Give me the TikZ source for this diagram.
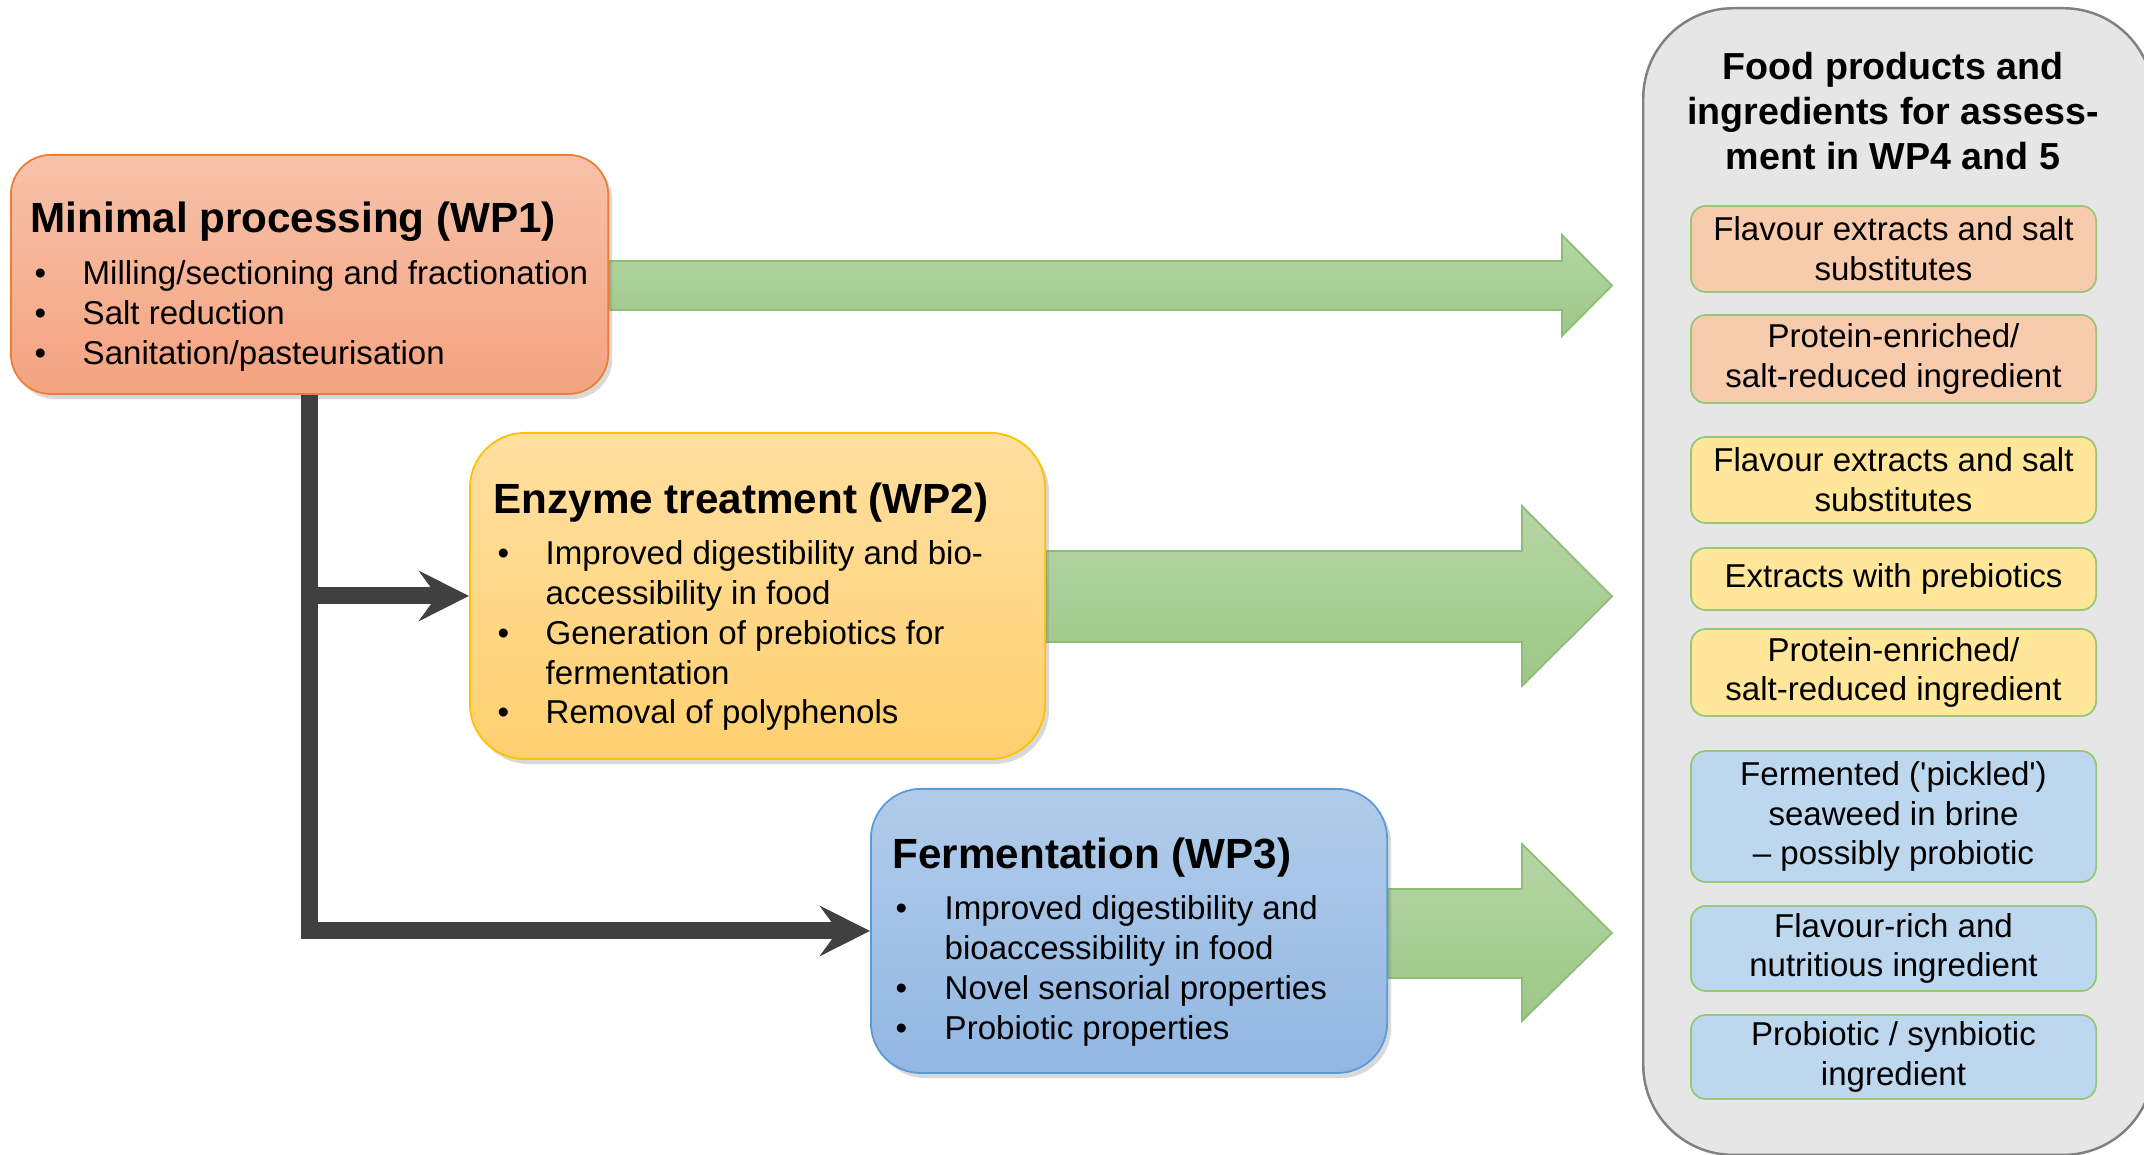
\documentclass[tikz,border=0pt]{standalone}
\usepackage{fontspec}
\setmainfont{Liberation Sans}
\usetikzlibrary{arrows.meta,shadows,backgrounds}

\definecolor{wponetop}{RGB}{247,194,170}
\definecolor{wponebot}{RGB}{244,163,128}
\definecolor{wponeline}{RGB}{237,125,49}
\definecolor{wptwotop}{RGB}{255,223,160}
\definecolor{wptwobot}{RGB}{255,208,112}
\definecolor{wptwoline}{RGB}{255,192,0}
\definecolor{wpthreetop}{RGB}{177,204,234}
\definecolor{wpthreebot}{RGB}{146,183,227}
\definecolor{wpthreeline}{RGB}{91,155,213}
\definecolor{arrowtop}{RGB}{181,214,164}
\definecolor{arrowbot}{RGB}{158,198,137}
\definecolor{arrowline}{RGB}{140,190,115}
\definecolor{connline}{RGB}{64,64,64}
\definecolor{panelfill}{RGB}{230,230,230}
\definecolor{panelline}{RGB}{128,128,128}
\definecolor{prodline}{RGB}{150,200,120}
\definecolor{prodorange}{RGB}{248,203,173}
\definecolor{prodyellow}{RGB}{255,230,153}
\definecolor{prodblue}{RGB}{189,215,238}

\tikzset{
  wpbox/.style={anchor=north west, line width=0.5pt, inner sep=0pt,
    drop shadow={shadow xshift=0.04cm, shadow yshift=-0.05cm, opacity=0.3}},
  wptitle/.style={anchor=base west, inner sep=0pt, font=\fontsize{12}{14}\selectfont\bfseries},
  wplist/.style={anchor=base west, inner sep=0pt, font=\fontsize{9.4}{11.3}\selectfont},
  prodbox/.style={draw=prodline, line width=0.5pt, rounded corners=0.15cm, minimum width=4.05cm,
    align=center, inner sep=0pt, font=\fontsize{9.4}{11.3}\selectfont},
  conn/.style={draw=connline, line width=0.17cm, -{Stealth[length=0.5cm,width=0.5cm,inset=0.18cm]}},
  bigarrow/.style={draw=arrowline, line width=0.5pt, top color=arrowtop, bottom color=arrowbot},
}

\begin{document}
\begin{tikzpicture}[x=0.01cm, y=-0.01cm]
\useasboundingbox (0,0) rectangle (2144,1155);

% Work package boxes
\node[wpbox, draw=wponeline, top color=wponetop, bottom color=wponebot, rounded corners=0.4cm,
  minimum width=5.97cm, minimum height=2.39cm] (wpone) at (10,154) {};
\node[wpbox, draw=wptwoline, top color=wptwotop, bottom color=wptwobot, rounded corners=0.55cm,
  minimum width=5.75cm, minimum height=3.26cm] (wptwo) at (469,432) {};
\node[wpbox, draw=wpthreeline, top color=wpthreetop, bottom color=wpthreebot, rounded corners=0.5cm,
  minimum width=5.16cm, minimum height=2.84cm] (wpthree) at (870,788) {};

% Box texts
\node[wptitle] (wponetitle) at (30,233) {Minimal processing (WP1)};
\node[wplist] (wponelist) at (34,285) {\begin{tabular}[t]{@{}p{0.48cm}@{}l@{}}
  \textbullet & Milling/sectioning and fractionation\\
  \textbullet & Salt reduction\\
  \textbullet & Sanitation/pasteurisation
\end{tabular}};
\node[wptitle] (wptwotitle) at (493,514) {Enzyme treatment (WP2)};
\node[wplist] (wptwolist) at (497,565) {\begin{tabular}[t]{@{}p{0.48cm}@{}l@{}}
  \textbullet & Improved digestibility and bio-\\
              & accessibility in food\\
  \textbullet & Generation of prebiotics for\\
              & fermentation\\
  \textbullet & Removal of polyphenols
\end{tabular}};
\node[wptitle] (wpthreetitle) at (892,869) {Fermentation (WP3)};
\node[wplist] (wpthreelist) at (895,920) {\begin{tabular}[t]{@{}p{0.49cm}@{}l@{}}
  \textbullet & Improved digestibility and\\
              & bioaccessibility in food\\
  \textbullet & Novel sensorial properties\\
  \textbullet & Probiotic properties
\end{tabular}};

% Connectors
\draw[conn] (wpone.south) |- (wpthree.west);
\draw[conn] (wpone.south |- wptwo.west) -- (wptwo.west);

% Products panel
\node[anchor=north west, draw=panelline, fill=panelfill, line width=0.7pt, rounded corners=0.9cm,
  minimum width=5.1cm, minimum height=11.46cm] (panel) at (1642,7) {};
\node[align=center, inner sep=0pt, font=\fontsize{10.7}{12.9}\selectfont\bfseries] (paneltitle)
  at (1893,111) {Food products and\\ingredients for assess-\\ment in WP4 and 5};

\node[prodbox, fill=prodorange, minimum height=0.86cm] (prodone) at (1893.5,249) {Flavour extracts and salt\\substitutes};
\node[prodbox, fill=prodorange, minimum height=0.88cm] (prodtwo) at (1893.5,359) {Protein-enriched/\\salt-reduced ingredient};
\node[prodbox, fill=prodyellow, minimum height=0.86cm] (prodthree) at (1893.5,480) {Flavour extracts and salt\\substitutes};
\node[prodbox, fill=prodyellow, minimum height=0.62cm] (prodfour) at (1893.5,579) {Extracts with prebiotics};
\node[prodbox, fill=prodyellow, minimum height=0.87cm] (prodfive) at (1893.5,672.5) {Protein-enriched/\\salt-reduced ingredient};
\node[prodbox, fill=prodblue, minimum height=1.31cm] (prodsix) at (1893.5,816.5) {Fermented (\textquotesingle pickled\textquotesingle)\\seaweed in brine\\– possibly probiotic};
\node[prodbox, fill=prodblue, minimum height=0.85cm] (prodseven) at (1893.5,948.5) {Flavour-rich and\\nutritious ingredient};
\node[prodbox, fill=prodblue, minimum height=0.84cm] (prodeight) at (1893.5,1057) {Probiotic / synbiotic\\ingredient};

% Outputs to the panel
\begin{scope}[on background layer]
\draw[bigarrow] (wpone.east |- 0,261) -- (1562,261) -- (1562,235) -- (1612,285.5)
  -- (1562,336) -- (1562,310) -- (wpone.east |- 0,310) -- cycle;
\draw[bigarrow] (wptwo.east |- 0,551) -- (1522,551) -- (1522,506) -- (1612,596.5)
  -- (1522,686) -- (1522,642) -- (wptwo.east |- 0,642) -- cycle;
\draw[bigarrow] (wpthree.east |- 0,889) -- (1522,889) -- (1522,844) -- (1612,933)
  -- (1522,1021) -- (1522,978) -- (wpthree.east |- 0,978) -- cycle;
\end{scope}
\end{tikzpicture}
\end{document}
